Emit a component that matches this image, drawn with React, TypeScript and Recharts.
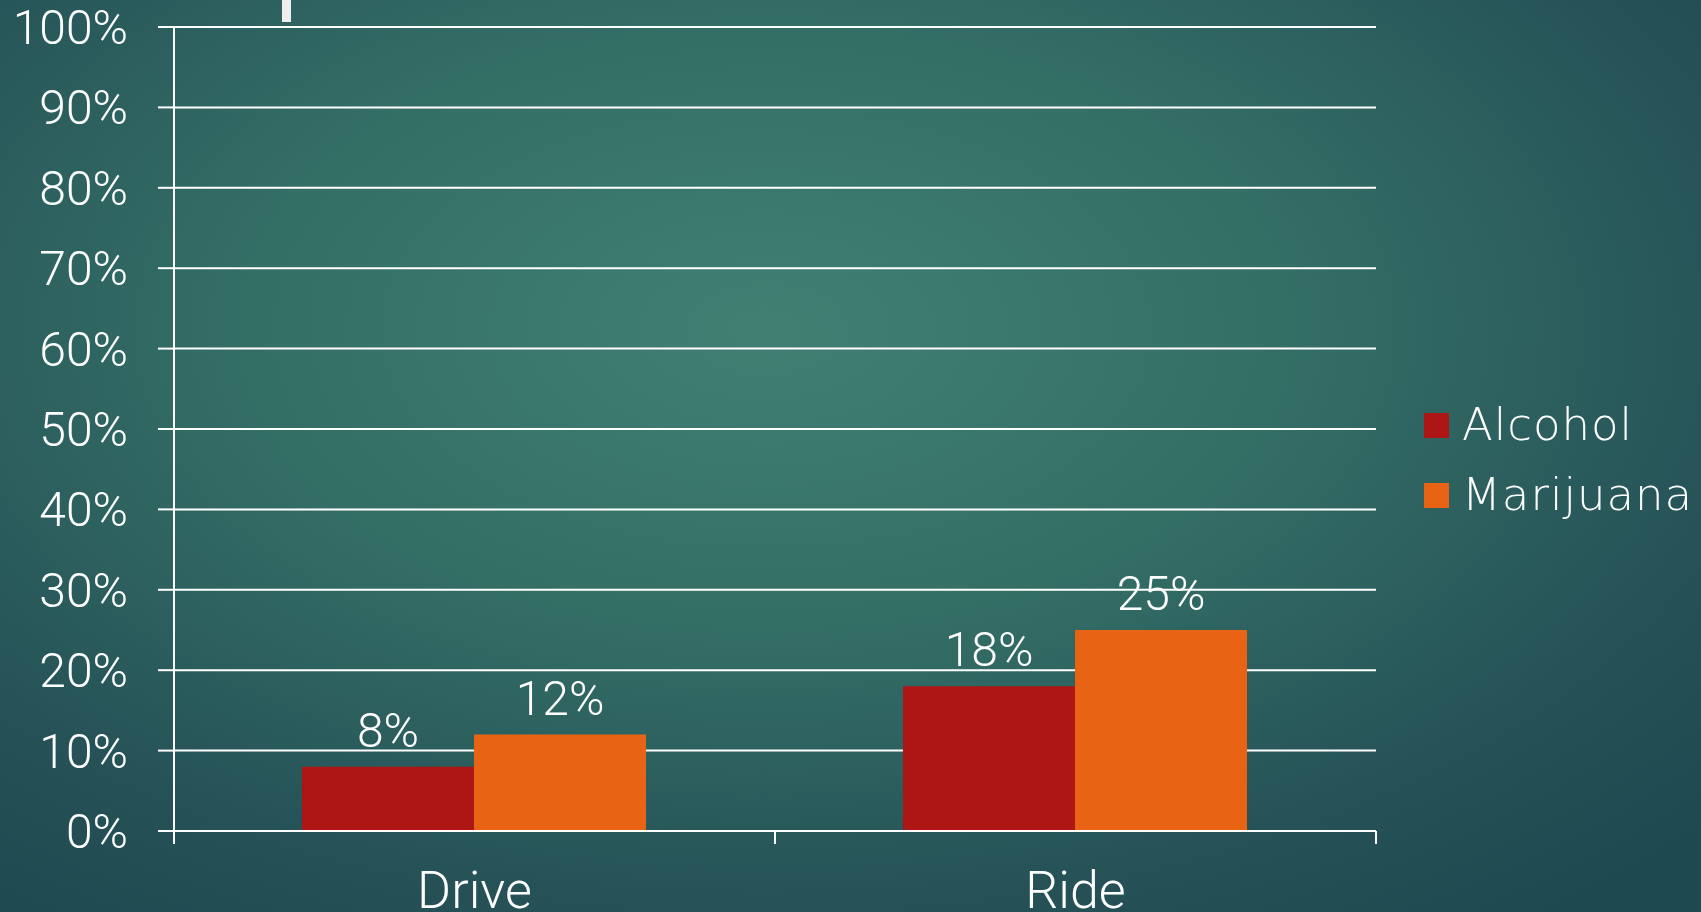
import React from 'react';
import { BarChart, Bar, XAxis, YAxis, CartesianGrid, Legend, LabelList } from 'recharts';

const categories = ['Drive', 'Ride'];
const alcoholValues = [8, 18];
const marijuanaValues = [12, 25];
const yTicks = [0, 10, 20, 30, 40, 50, 60, 70, 80, 90, 100];

const ALCOHOL = '#AE1515';
const MARIJUANA = '#E86313';
const AXIS_FONT = 'Roboto, "Open Sans", sans-serif';
const LEGEND_FONT = '"DejaVu Sans", sans-serif';

const data = categories.map((name, i) => ({
  name,
  Alcohol: alcoholValues[i],
  Marijuana: marijuanaValues[i],
}));

function CategoryTick(props: any) {
  const { x, y, payload, index } = props;
  const half = payload && typeof payload.offset === 'number' ? payload.offset : 0;
  return (
    <g>
      <line x1={x - half} y1={y} x2={x - half} y2={y + 13} stroke="#fff" strokeWidth={2} />
      {index === categories.length - 1 && (
        <line x1={x + half} y1={y} x2={x + half} y2={y + 13} stroke="#fff" strokeWidth={2} />
      )}
      <text x={x} y={y + 40} dy="0.71em" textAnchor="middle" fill="#fff"
        fontSize={52} fontFamily={AXIS_FONT} fontWeight={300}>
        {payload.value}
      </text>
    </g>
  );
}

function LegendBox(props: any) {
  const items = props.payload || [];
  return (
    <div style={{ display: 'flex', flexDirection: 'column' }}>
      {items.map((it: any) => (
        <div key={it.value} style={{ display: 'flex', alignItems: 'center', height: 70 }}>
          <span style={{ width: 25, height: 25, background: it.color, marginRight: 13, display: 'inline-block' }} />
          <span style={{ color: '#fff', fontSize: 45, fontFamily: LEGEND_FONT, fontWeight: 200, letterSpacing: 1, lineHeight: '70px' }}>
            {it.value}
          </span>
        </div>
      ))}
    </div>
  );
}

export default function App() {
  return (
    <div style={{
      position: 'fixed', left: 0, top: 0, width: 1701, height: 912, overflow: 'hidden',
      background: 'radial-gradient(ellipse 75% 80% at 45% 36%, #417f73 0%, #346f66 40%, #255157 80%, #1e4950 100%)',
    }}>
      <div style={{ position: 'absolute', left: 282, top: 0, width: 9, height: 22, background: '#eeeeee' }} />
      <BarChart width={1701} height={912} data={data}
        margin={{ top: 27, right: 325, left: 0, bottom: 0 }}
        barCategoryGap="21.3%" barGap={0}>
        <CartesianGrid vertical={false} stroke="#fff" strokeWidth={2} />
        <XAxis dataKey="name" height={81} interval={0} tickLine={false} tickSize={0} tickMargin={0}
          axisLine={{ stroke: '#fff', strokeWidth: 2 }} tick={<CategoryTick />} />
        <YAxis type="number" domain={[0, 100]} ticks={yTicks} interval={0} width={174}
          tickFormatter={(v: number) => `${v}%`} tickSize={16} tickMargin={30}
          axisLine={{ stroke: '#fff', strokeWidth: 2 }} tickLine={{ stroke: '#fff', strokeWidth: 2 }}
          tick={{ fill: '#fff', fontSize: 48, fontFamily: AXIS_FONT, fontWeight: 300 }} />
        <Legend layout="horizontal" verticalAlign="middle" align="center" content={<LegendBox />}
          wrapperStyle={{ left: 1424, top: 390, width: 'auto', height: 'auto' }} />
        <Bar dataKey="Alcohol" fill={ALCOHOL} isAnimationActive={false}>
          <LabelList dataKey="Alcohol" position="top" offset={20} formatter={(v: any) => `${v}%`}
            fill="#fff" fontSize={48} fontFamily={AXIS_FONT} fontWeight={300} />
        </Bar>
        <Bar dataKey="Marijuana" fill={MARIJUANA} isAnimationActive={false}>
          <LabelList dataKey="Marijuana" position="top" offset={20} formatter={(v: any) => `${v}%`}
            fill="#fff" fontSize={48} fontFamily={AXIS_FONT} fontWeight={300} />
        </Bar>
      </BarChart>
    </div>
  );
}
